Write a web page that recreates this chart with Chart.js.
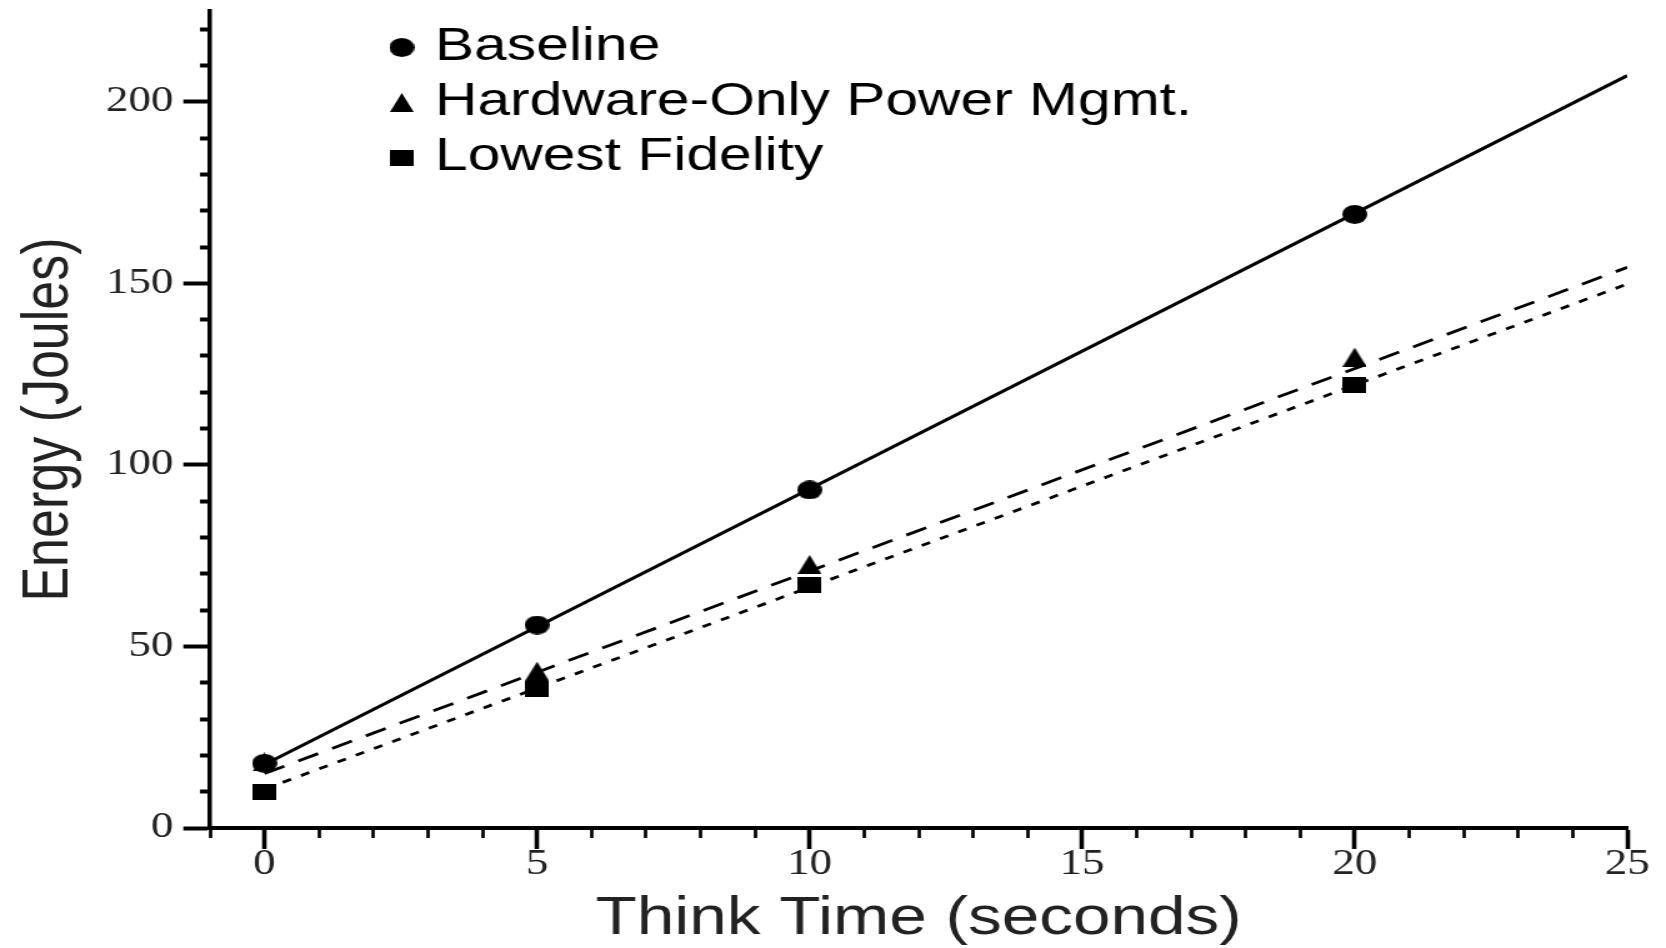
<!DOCTYPE html>
<html>
<head>
<meta charset="utf-8">
<title>Energía vs. tiempo de reflexión</title>
<script src="https://cdn.jsdelivr.net/npm/chart.js@4.4.1/dist/chart.umd.min.js"></script>
<style>
    html, body { margin: 0; padding: 0; background: #fff; overflow: hidden; }
    /* el gráfico se dibuja algo más estrecho y se estira en horizontal */
    #lienzo { width: 1333px; height: 948px; transform: scaleX(1.2498); transform-origin: 0 0; }
</style>
</head>
<body>
<div id="lienzo"><canvas id="graficoEnergia"></canvas></div>
<script>
// Tiempos de reflexión (segundos) en los que se midió
const tiemposMedidos = [0, 5, 10, 20];

// Energía medida de cada configuración (Julios)
const baseline = [17.8, 55.9, 93.1, 169.0];
const hardwareOnly = [18.2, 43.2, 72.6, 129.7];
const lowestFidelity = [10.0, 38.2, 66.9, 122.0];

// Rectas de ajuste: valor en cada extremo
const tiemposAjuste = [0, 25];
const ajusteBaseline = [17.5, 207.2];
const ajusteHardware = [15.0, 154.4];
const ajusteLowest = [10.7, 149.8];

const nombresSeries = ['Baseline', 'Hardware-Only Power Mgmt.', 'Lowest Fidelity'];
const etiquetasX = [0, 5, 10, 15, 20, 25];
const etiquetasY = [0, 50, 100, 150, 200];

const fuenteSans = "'Liberation Sans', Arial, sans-serif";
const fuenteSerif = "'Liberation Serif', 'Times New Roman', serif";

// Marcadores negros dibujados a mano (círculo, triángulo, rectángulo)
function crearIcono(forma, ancho, alto) {
    const c = document.createElement('canvas');
    c.width = ancho;
    c.height = alto;
    const g = c.getContext('2d');
    g.fillStyle = '#000';
    g.beginPath();
    if (forma === 'circulo') {
        g.ellipse(ancho / 2, alto / 2, ancho / 2, alto / 2, 0, 0, Math.PI * 2);
    } else if (forma === 'triangulo') {
        g.moveTo(ancho / 2, 0);
        g.lineTo(ancho, alto);
        g.lineTo(0, alto);
        g.closePath();
    } else {
        g.rect(0, 0, ancho, alto);
    }
    g.fill();
    return c;
}

const iconos = [
    crearIcono('circulo', 20, 19),
    crearIcono('triangulo', 19, 19),
    crearIcono('rect', 19, 16)
];

function puntos(xs, ys) {
    return xs.map((x, i) => ({ x: x, y: ys[i] }));
}

function serieMedida(i, valores) {
    return {
        label: nombresSeries[i],
        data: puntos(tiemposMedidos, valores),
        showLine: false,
        pointStyle: iconos[i],
        pointRadius: 10,
        pointHoverRadius: 10,
        borderColor: '#000',
        backgroundColor: '#000'
    };
}

function recta(valores, trazo, ancho) {
    return {
        label: 'ajuste',
        data: puntos(tiemposAjuste, valores),
        showLine: true,
        pointRadius: 0,
        borderColor: '#000',
        borderWidth: ancho,
        borderDash: trazo,
        fill: false
    };
}

// Mueve la leyenda a la esquina superior del área del gráfico
const ubicarLeyenda = {
    id: 'ubicarLeyenda',
    afterLayout(chart) {
        const leyenda = chart.legend;
        leyenda.left = 310.5;
        leyenda.top = 16;
        leyenda.right = leyenda.left + leyenda.width;
        leyenda.bottom = leyenda.top + leyenda.height;
    }
};

const esMarcaX = c => c.tick && etiquetasX.includes(c.tick.value);
const esMarcaY = c => c.tick && etiquetasY.includes(c.tick.value);

var ctx = document.getElementById('graficoEnergia').getContext('2d');
var graficoEnergia = new Chart(ctx, {
    type: 'scatter',
    data: {
        datasets: [
            serieMedida(0, baseline),
            serieMedida(1, hardwareOnly),
            serieMedida(2, lowestFidelity),
            recta(ajusteBaseline, [], 3),
            recta(ajusteHardware, [17.5, 12.3], 2.8),
            recta(ajusteLowest, [7.3, 8.8], 2.8)
        ]
    },
    options: {
        responsive: true,
        maintainAspectRatio: false,
        animation: false,
        events: [],
        layout: { padding: { top: 10, right: 31, bottom: 0, left: 0 } },
        plugins: {
            tooltip: { enabled: false },
            legend: {
                position: 'chartArea',
                align: 'start',
                labels: {
                    usePointStyle: true,
                    boxWidth: 6,
                    padding: 8,
                    color: '#000',
                    font: { family: fuenteSans, size: 47 },
                    filter: item => item.datasetIndex < 3
                }
            }
        },
        scales: {
            x: {
                type: 'linear',
                min: -1,
                max: 25,
                afterFit: eje => { eje.height = 120; },
                ticks: {
                    stepSize: 1,
                    autoSkip: false,
                    maxRotation: 0,
                    padding: -2,
                    color: '#222',
                    font: { family: fuenteSerif, size: 36, lineHeight: 1 },
                    callback: v => etiquetasX.includes(v) ? String(v) : ''
                },
                grid: {
                    drawOnChartArea: false,
                    drawTicks: true,
                    tickLength: 21,
                    tickColor: '#000',
                    tickWidth: c => esMarcaX(c) ? 3.6 : 2.7,
                    tickBorderDash: c => (c.tick && !esMarcaX(c)) ? [8, 40] : []
                },
                border: { color: '#000', width: 4 },
                title: {
                    display: true,
                    text: 'Think Time (seconds)',
                    color: '#222',
                    font: { family: fuenteSans, size: 54, lineHeight: 1 },
                    padding: { top: 0, bottom: 2 }
                }
            },
            y: {
                min: 0,
                max: 225,
                afterFit: eje => { eje.width = 168; eje.paddingTop = 0; eje.paddingBottom = 0; },
                ticks: {
                    stepSize: 10,
                    includeBounds: false,
                    autoSkip: false,
                    padding: 8,
                    color: '#222',
                    font: { family: fuenteSerif, size: 36, lineHeight: 1 },
                    callback: v => etiquetasY.includes(v) ? String(v) : ''
                },
                grid: {
                    drawOnChartArea: false,
                    drawTicks: true,
                    tickLength: 21.3,
                    tickColor: '#000',
                    tickWidth: 4,
                    tickBorderDash: c => (c.tick && !esMarcaY(c)) ? [0, 13.3, 8, 60] : []
                },
                border: { color: '#000', width: 3.5 },
                title: {
                    display: true,
                    text: 'Energy (Joules)',
                    color: '#222',
                    font: { family: fuenteSans, size: 52, lineHeight: 1 },
                    padding: { top: 14, bottom: 0 }
                }
            }
        }
    },
    plugins: [ubicarLeyenda]
});
</script>
</body>
</html>
